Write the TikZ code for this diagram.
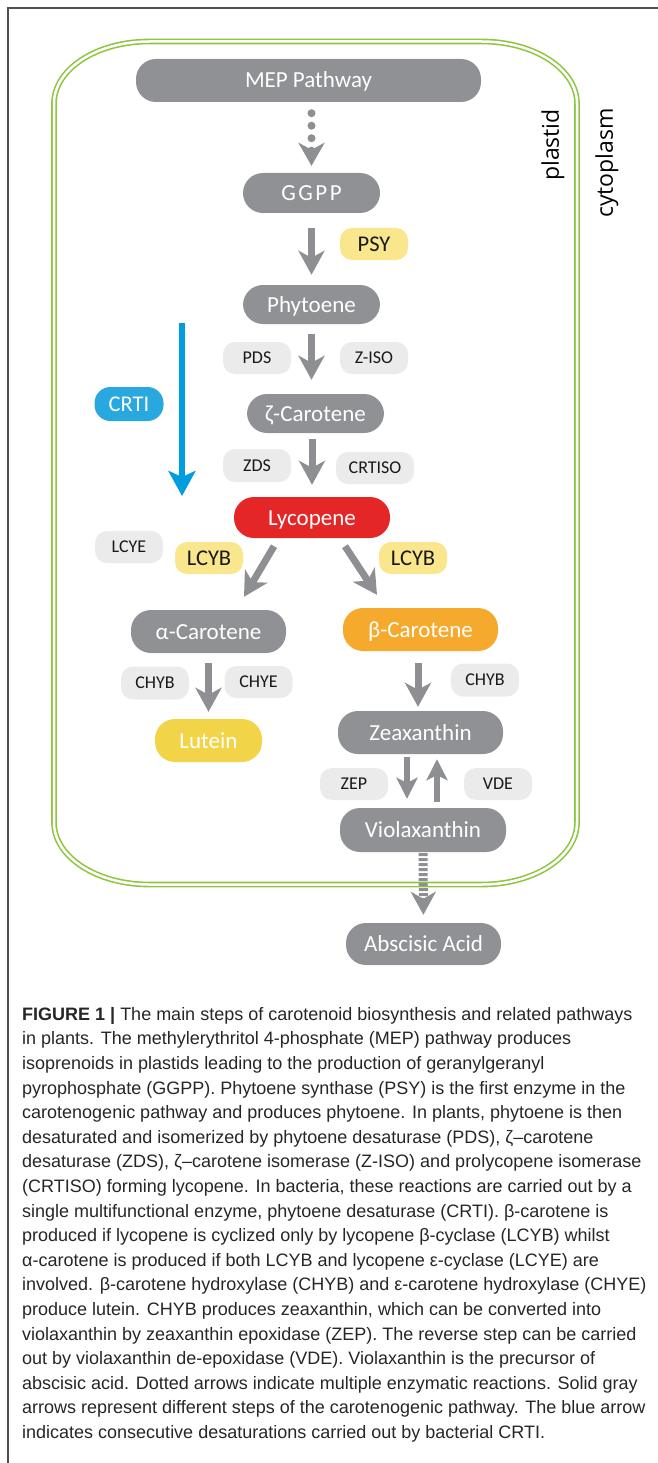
\documentclass[tikz,border=0pt]{standalone}
\usepackage{fontspec}
\setmainfont{Carlito}
\newfontfamily\capfont{Liberation Sans}
\newfontfamily\sidefont{Open Sans}
\usepackage{tikz}
\usetikzlibrary{arrows.meta}
\usepackage{xcolor}
\definecolor{poolgray}{RGB}{143,145,148}
\definecolor{flowgray}{RGB}{141,143,146}
\definecolor{enzgray}{RGB}{235,235,236}
\definecolor{enzyellow}{RGB}{250,230,140}
\definecolor{luteinyellow}{RGB}{242,212,72}
\definecolor{lycored}{RGB}{228,38,39}
\definecolor{betaorange}{RGB}{245,170,46}
\definecolor{crtiblue}{RGB}{41,168,224}
\definecolor{arrowblue}{RGB}{0,157,224}
\definecolor{membranegreen}{RGB}{141,198,63}
\definecolor{framegray}{RGB}{80,80,80}
\newcommand{\poolfont}{\fontsize{23}{27}\selectfont}
\newcommand{\enzfont}{\fontsize{18}{21}\selectfont}
\newcommand{\yenzfont}{\fontsize{22.5}{26}\selectfont}
\newcommand{\sidelbl}{\sidefont\fontsize{23}{26}\selectfont}

\begin{document}
\begin{tikzpicture}[x=1pt,y=-1pt,
    pool/.style={fill=poolgray,text=white,font=\poolfont,rounded corners=20pt,inner sep=0pt,
      text height=15pt,text depth=0pt,minimum height=43pt},
    enz/.style={fill=enzgray,text=black!90,font=\enzfont,rounded corners=12pt,inner sep=0pt,
      text height=11.7pt,text depth=0pt,minimum width=68pt,minimum height=32pt},
    yenz/.style={enz,fill=enzyellow,font=\yenzfont,text height=14.5pt},
    flow/.style={draw=flowgray,line width=7pt,-{Stealth[length=24pt,width=26pt,inset=7pt]}},
    smallflow/.style={draw=flowgray,line width=6.5pt,-{Stealth[length=21pt,width=21pt,inset=5pt]}},
    membrane/.style={draw=membranegreen,double=white,double distance=2.5pt,line width=1.6pt}]
    \useasboundingbox (0,0) rectangle (657,1463);
    % figure frame
    \draw[framegray,line width=1.2pt] (8,1470) -- (8,8) -- (665,8);
    % plastid envelope
    \draw[membrane] (54,103.5) arc[start angle=180,end angle=270,x radius=95,y radius=62]
      -- (482,41.5) arc[start angle=270,end angle=360,x radius=95,y radius=62]
      -- (577,822.5) arc[start angle=0,end angle=90,x radius=95,y radius=62]
      -- (149,884.5) arc[start angle=90,end angle=180,x radius=95,y radius=62] -- cycle;
    \node[font=\sidelbl,rotate=90] (plastid) at (553,145) {plastid};
    \node[font=\sidelbl,rotate=90] (cytoplasm) at (607,163) {cytoplasm};

    % metabolites
    \node[pool,minimum width=345pt] (mep) at (308.5,80.5) {MEP Pathway};
    \node[pool,minimum width=137pt,minimum height=40pt] (ggpp) at (311.5,193) {G\kern2.5pt G\kern2.5pt P\kern2.5pt P};
    \node[pool,minimum width=137pt,minimum height=39pt] (phyto) at (311.5,304.5) {Phytoene};
    \node[pool,minimum width=137pt,minimum height=39pt] (zeta) at (315.5,413.5) {ζ-Carotene};
    \node[pool,fill=lycored,minimum width=156pt,minimum height=41pt] (lyco) at (312,517.5) {Lycopene};
    \node[pool,minimum width=155pt] (alpha) at (208.5,631.5) {α-Carotene};
    \node[pool,fill=betaorange,minimum width=155pt] (beta) at (420.5,629.5) {β-Carotene};
    \node[pool,fill=luteinyellow,minimum width=107pt] (lutein) at (208.5,740.5) {Lutein};
    \node[pool,minimum width=165pt] (zea) at (420.5,732.5) {Zeaxanthin};
    \node[pool,minimum width=166pt,minimum height=44pt] (viola) at (423,830) {Violaxanthin};
    \node[pool,minimum width=155pt,minimum height=42pt] (aba) at (423.5,944) {Abscisic Acid};

    % enzymes
    \node[yenz] (psy) at (374,244) {PSY};
    \node[enz] (pds) at (257,358) {PDS};
    \node[enz] (ziso) at (374,358) {Z-ISO};
    \node[enz,fill=crtiblue,text=white,font=\yenzfont,text height=14.5pt,minimum width=69pt,
      minimum height=34pt,rounded corners=16pt] (crti) at (129,404) {CRTI};
    \node[enz,minimum height=33pt] (zds) at (257,465.5) {ZDS};
    \node[enz,minimum width=78pt] (crtiso) at (375,468) {CRTISO};
    \node[enz] (lcye) at (129,547) {LCYE};
    \node[yenz] (lcybl) at (209,558) {LCYB};
    \node[yenz] (lcybr) at (413,558) {LCYB};
    \node[enz,minimum height=33pt] (chybl) at (155,683) {CHYB};
    \node[enz] (chye) at (258.5,682) {CHYE};
    \node[enz,minimum height=33pt] (chybr) at (485,680) {CHYB};
    \node[enz] (zep) at (354,784) {ZEP};
    \node[enz] (vde) at (498,784) {VDE};

    % steps
    \draw[flow,-{Stealth[length=23pt,width=26pt,inset=7pt]},line cap=round,dash pattern=on 0pt off 12.5pt,
      line width=8pt,shorten <=11pt,shorten >=7pt] (mep.south -| ggpp.north) -- (ggpp.north);
    \draw[flow,shorten <=15pt,shorten >=10pt] (ggpp) -- (phyto);
    \draw[flow,shorten <=10pt,shorten >=14pt] (phyto.south) -- (phyto.south |- zeta.north);
    \draw[flow,shorten <=6pt,shorten >=12pt] (zeta.south -| lyco.north) -- (lyco.north);
    \draw[flow] ([xshift=-38pt,yshift=-8pt]lyco.south) -- ([xshift=35.5pt,yshift=13pt]alpha.north);
    \draw[flow] ([xshift=33pt,yshift=-8pt]lyco.south) -- ([xshift=-43.5pt,yshift=13pt]beta.north);
    \draw[flow,shorten <=10pt,shorten >=7pt] (alpha) -- (lutein);
    \draw[flow,shorten <=12pt,shorten >=4pt] ([xshift=-2.5pt]beta.south) -- ([xshift=-2.5pt]zea.north);
    \draw[smallflow,shorten <=3pt,shorten >=9pt] ([xshift=-13.5pt]zea.south) -- ([xshift=-16pt]viola.north);
    \draw[smallflow,shorten <=6pt,shorten >=5pt] ([xshift=14pt]viola.north) -- ([xshift=16.5pt]zea.south);
    \draw[flow,-{Stealth[length=23pt,width=25pt,inset=7pt]},line width=9pt,dash pattern=on 3pt off 2pt,
      shorten <=1pt,shorten >=8pt] (viola) -- (aba);
    % bacterial CRTI route
    \coordinate (bluetop) at (182,323);
    \coordinate (bluetip) at (182,496);
    \draw[draw=arrowblue,line width=6pt,-{Stealth[length=25pt,width=27pt,inset=6pt]}] (bluetop) -- (bluetip);

    % caption
    \node[anchor=north west,inner sep=0pt,align=left,text=black!85,
      font=\capfont\fontsize{18}{24.6}\selectfont] (caption) at (22,1007) {%
      \textbf{FIGURE 1 |} The main steps of carotenoid biosynthesis and related pathways\\
      in plants. The methylerythritol 4-phosphate (MEP) pathway produces\\
      isoprenoids in plastids leading to the production of geranylgeranyl\\
      pyrophosphate (GGPP). Phytoene synthase (PSY) is the first enzyme in the\\
      carotenogenic pathway and produces phytoene. In plants, phytoene is then\\
      desaturated and isomerized by phytoene desaturase (PDS), ζ–carotene\\
      desaturase (ZDS), ζ–carotene isomerase (Z-ISO) and prolycopene isomerase\\
      (CRTISO) forming lycopene. In bacteria, these reactions are carried out by a\\
      single multifunctional enzyme, phytoene desaturase (CRTI). β-carotene is\\
      produced if lycopene is cyclized only by lycopene β-cyclase (LCYB) whilst\\
      α-carotene is produced if both LCYB and lycopene ε-cyclase (LCYE) are\\
      involved. β-carotene hydroxylase (CHYB) and ε-carotene hydroxylase (CHYE)\\
      produce lutein. CHYB produces zeaxanthin, which can be converted into\\
      violaxanthin by zeaxanthin epoxidase (ZEP). The reverse step can be carried\\
      out by violaxanthin de-epoxidase (VDE). Violaxanthin is the precursor of\\
      abscisic acid. Dotted arrows indicate multiple enzymatic reactions. Solid gray\\
      arrows represent different steps of the carotenogenic pathway. The blue arrow\\
      indicates consecutive desaturations carried out by bacterial CRTI.};
\end{tikzpicture}
\end{document}
